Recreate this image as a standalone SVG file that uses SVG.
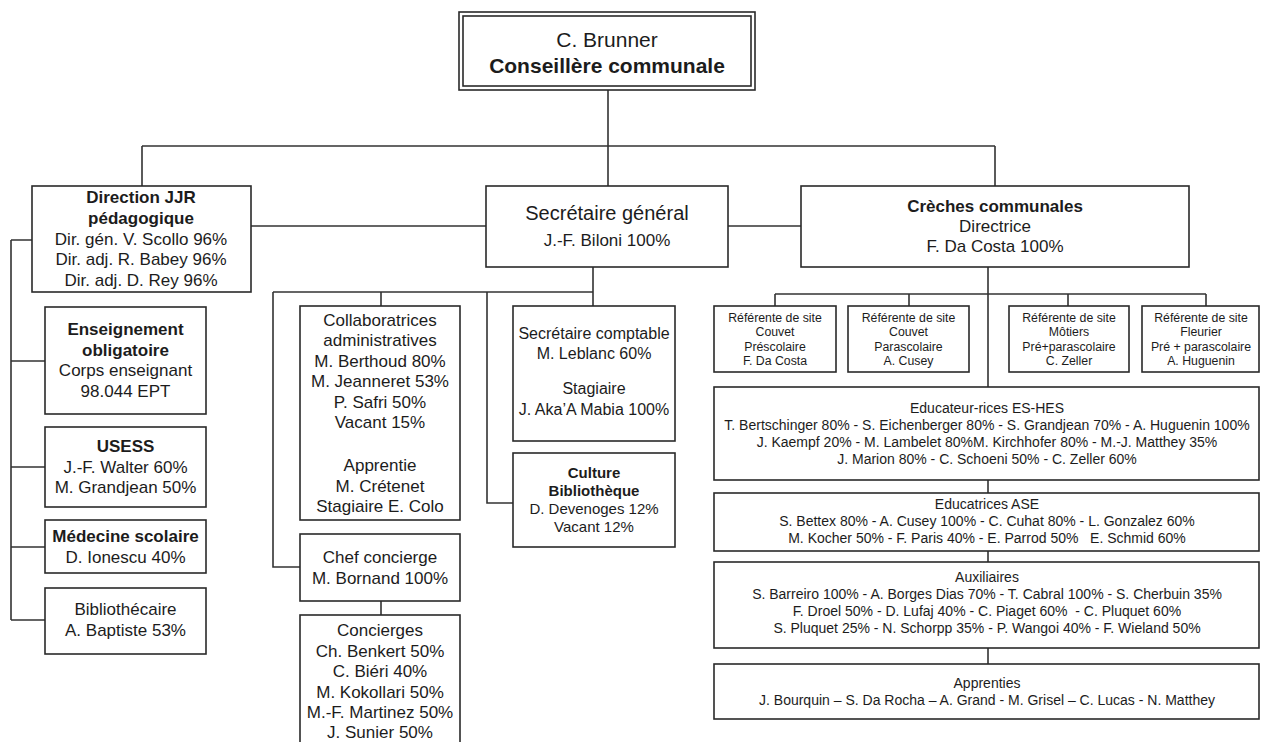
<svg xmlns="http://www.w3.org/2000/svg" width="1261" height="742" viewBox="0 0 1261 742">
<style>
.b{fill:#fff;stroke:#2a2a2a;stroke-width:1.6}
.c{fill:none;stroke:#333;stroke-width:1.6}
text{font-family:"Liberation Sans",Arial,sans-serif;fill:#1c1c1c;text-anchor:middle}
.f21{font-size:21px}.f20{font-size:20px}.f17{font-size:17px}.f16{font-size:16px}.f15{font-size:15px}.f14{font-size:14px}.f12{font-size:12.3px}
.bd{font-weight:bold}
</style>
<rect width="1261" height="742" fill="#fff"/>
<g id="connectors">
<path class="c" d="M608 90V186M142 146H995M142 146V186M995 146V186"/>
<path class="c" d="M251 226H486M728 226H801"/>
<path class="c" d="M11 240H32M11 240V620M11 361H45M11 467H45M11 547H45M11 620H45"/>
<path class="c" d="M593 267V292M273 292H593M381 292V306M593 292V306M487 292V503H513M273 292V567H300M381 601V615"/>
<path class="c" d="M988 267V387M775 294H1206M775 294V306M909 294V306M1068 294V306M1206 294V306M988 480V493M988 551V562M988 648V664"/>
</g>
<g id="brunner">
<rect class="b" x="459" y="12" width="296" height="78"/>
<rect class="b" x="463" y="16" width="288" height="70"/>
<text class="f21" x="607" y="47">C. Brunner</text>
<text class="f21 bd" x="607" y="73">Conseillère communale</text>
</g>
<g id="direction">
<rect class="b" x="32" y="186" width="219" height="106"/>
<text class="f17"><tspan class="bd" x="141" y="203">Direction JJR</tspan><tspan class="bd" x="141" y="224">pédagogique</tspan><tspan x="141" y="245">Dir. gén. V. Scollo 96%</tspan><tspan x="141" y="265">Dir. adj. R. Babey 96%</tspan><tspan x="141" y="286">Dir. adj. D. Rey 96%</tspan></text>
</g>
<g id="enseignement">
<rect class="b" x="45" y="307" width="161" height="107"/>
<text class="f17"><tspan class="bd" x="125.5" y="335">Enseignement</tspan><tspan class="bd" x="125.5" y="356">obligatoire</tspan><tspan x="125.5" y="376">Corps enseignant</tspan><tspan x="125.5" y="397">98.044 EPT</tspan></text>
</g>
<g id="usess">
<rect class="b" x="45" y="427" width="161" height="80"/>
<text class="f17"><tspan class="bd" x="125.5" y="452">USESS</tspan><tspan x="125.5" y="473">J.-F. Walter 60%</tspan><tspan x="125.5" y="493">M. Grandjean 50%</tspan></text>
</g>
<g id="medecine">
<rect class="b" x="45" y="520" width="161" height="53"/>
<text class="f17"><tspan class="bd" x="125.5" y="542">Médecine scolaire</tspan><tspan x="125.5" y="563">D. Ionescu 40%</tspan></text>
</g>
<g id="bibliothecaire">
<rect class="b" x="45" y="588" width="161" height="66"/>
<text class="f17"><tspan x="125.5" y="615">Bibliothécaire</tspan><tspan x="125.5" y="636">A. Baptiste 53%</tspan></text>
</g>
<g id="secretaire">
<rect class="b" x="486" y="186" width="242" height="81"/>
<text class="f20" x="607" y="220">Secrétaire général</text>
<text class="f17" x="607" y="246">J.-F. Biloni 100%</text>
</g>
<g id="collaboratrices">
<rect class="b" x="300" y="306" width="160" height="214"/>
<text class="f17"><tspan x="380" y="326">Collaboratrices</tspan><tspan x="380" y="346">administratives</tspan><tspan x="380" y="367">M. Berthoud 80%</tspan><tspan x="380" y="387">M. Jeanneret 53%</tspan><tspan x="380" y="408">P. Safri 50%</tspan><tspan x="380" y="428">Vacant 15%</tspan><tspan x="380" y="471">Apprentie</tspan><tspan x="380" y="492">M. Crétenet</tspan><tspan x="380" y="512">Stagiaire E. Colo</tspan></text>
</g>
<g id="chef-concierge">
<rect class="b" x="300" y="534" width="160" height="67"/>
<text class="f17"><tspan x="380" y="563">Chef concierge</tspan><tspan x="380" y="584">M. Bornand 100%</tspan></text>
</g>
<g id="concierges">
<rect class="b" x="300" y="615" width="160" height="135"/>
<text class="f17"><tspan x="380" y="636">Concierges</tspan><tspan x="380" y="657">Ch. Benkert 50%</tspan><tspan x="380" y="677">C. Biéri 40%</tspan><tspan x="380" y="698">M. Kokollari 50%</tspan><tspan x="380" y="718">M.-F. Martinez 50%</tspan><tspan x="380" y="738">J. Sunier 50%</tspan></text>
</g>
<g id="comptable">
<rect class="b" x="513" y="306" width="162" height="135"/>
<text class="f16"><tspan x="594" y="339">Secrétaire comptable</tspan><tspan x="594" y="359">M. Leblanc 60%</tspan><tspan x="594" y="394">Stagiaire</tspan><tspan x="594" y="415">J. Aka’A Mabia 100%</tspan></text>
</g>
<g id="culture">
<rect class="b" x="513" y="453" width="162" height="94"/>
<text class="f15"><tspan class="bd" x="594" y="478">Culture</tspan><tspan class="bd" x="594" y="496">Bibliothèque</tspan><tspan x="594" y="514">D. Devenoges 12%</tspan><tspan x="594" y="532">Vacant 12%</tspan></text>
</g>
<g id="creches">
<rect class="b" x="801" y="186" width="388" height="81"/>
<text class="f17"><tspan class="bd" x="995" y="212">Crèches communales</tspan><tspan x="995" y="232">Directrice</tspan><tspan x="995" y="252">F. Da Costa 100%</tspan></text>
</g>
<g id="ref-couvet-pre">
<rect class="b" x="714" y="306" width="122" height="66"/>
<text class="f12"><tspan x="775" y="322">Référente de site</tspan><tspan x="775" y="336">Couvet</tspan><tspan x="775" y="351">Préscolaire</tspan><tspan x="775" y="365">F. Da Costa</tspan></text>
</g>
<g id="ref-couvet-para">
<rect class="b" x="848" y="306" width="121" height="66"/>
<text class="f12"><tspan x="908.5" y="322">Référente de site</tspan><tspan x="908.5" y="336">Couvet</tspan><tspan x="908.5" y="351">Parascolaire</tspan><tspan x="908.5" y="365">A. Cusey</tspan></text>
</g>
<g id="ref-motiers">
<rect class="b" x="1009" y="306" width="120" height="66"/>
<text class="f12"><tspan x="1069" y="322">Référente de site</tspan><tspan x="1069" y="336">Môtiers</tspan><tspan x="1069" y="351">Pré+parascolaire</tspan><tspan x="1069" y="365">C. Zeller</tspan></text>
</g>
<g id="ref-fleurier">
<rect class="b" x="1142" y="306" width="117" height="66"/>
<text class="f12"><tspan x="1201" y="322">Référente de site</tspan><tspan x="1201" y="336">Fleurier</tspan><tspan x="1201" y="351">Pré + parascolaire</tspan><tspan x="1201" y="365">A. Huguenin</tspan></text>
</g>
<g id="es-hes">
<rect class="b" x="714" y="387" width="545" height="93"/>
<text class="f14"><tspan x="987" y="413">Educateur-rices ES-HES</tspan><tspan x="987" y="430">T. Bertschinger 80% - S. Eichenberger 80% - S. Grandjean 70% - A. Huguenin 100%</tspan><tspan x="987" y="447">J. Kaempf 20% - M. Lambelet 80%M. Kirchhofer 80% - M.-J. Matthey 35%</tspan><tspan x="987" y="464">J. Marion 80% - C. Schoeni 50% - C. Zeller 60%</tspan></text>
</g>
<g id="ase">
<rect class="b" x="714" y="493" width="545" height="58"/>
<text class="f14"><tspan x="987" y="509">Educatrices ASE</tspan><tspan x="987" y="526">S. Bettex 80% - A. Cusey 100% - C. Cuhat 80% - L. Gonzalez 60%</tspan><tspan x="987" y="543">M. Kocher 50% - F. Paris 40% - E. Parrod 50% &#160; E. Schmid 60%</tspan></text>
</g>
<g id="auxiliaires">
<rect class="b" x="714" y="562" width="545" height="86"/>
<text class="f14"><tspan x="987" y="582">Auxiliaires</tspan><tspan x="987" y="599">S. Barreiro 100% - A. Borges Dias 70% - T. Cabral 100% - S. Cherbuin 35%</tspan><tspan x="987" y="616">F. Droel 50% - D. Lufaj 40% - C. Piaget 60% &#160;- C. Pluquet 60%</tspan><tspan x="987" y="633">S. Pluquet 25% - N. Schorpp 35% - P. Wangoi 40% - F. Wieland 50%</tspan></text>
</g>
<g id="apprenties">
<rect class="b" x="714" y="664" width="545" height="55"/>
<text class="f14"><tspan x="987" y="688">Apprenties</tspan><tspan x="987" y="705">J. Bourquin – S. Da Rocha – A. Grand - M. Grisel – C. Lucas - N. Matthey</tspan></text>
</g>
</svg>
